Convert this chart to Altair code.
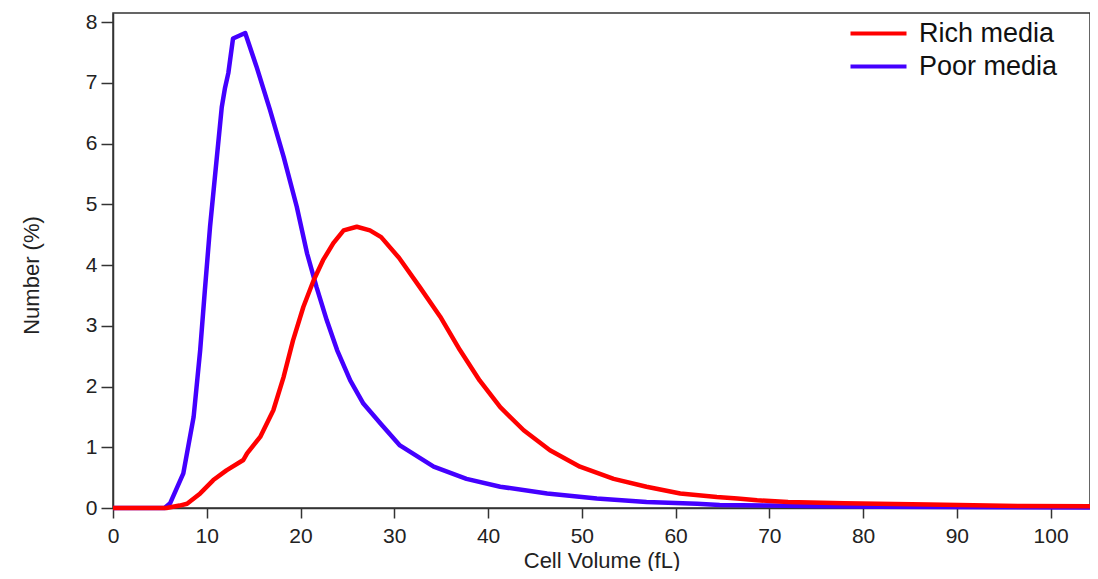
import altair as alt
import pandas as pd

# Rich media curve (Cell Volume fL, Number %)
rich_x = [0, 5.7, 7.1, 7.9, 9.3, 10.7, 12.1, 13.9, 14.3, 15.7, 17.1, 18.2, 19.2, 20.3, 21.4,
          22.4, 23.5, 24.6, 26.0, 27.4, 28.6, 30.5, 32.7, 34.9, 37.0, 39.1, 41.3, 43.8, 46.6,
          49.8, 53.4, 56.9, 60.5, 64.4, 66.6, 68.7, 72.0, 78.0, 87.0, 97.0, 104.2]
rich_y = [0, 0, 0.04, 0.07, 0.24, 0.46, 0.62, 0.79, 0.9, 1.17, 1.61, 2.16, 2.76, 3.31, 3.75,
          4.08, 4.36, 4.57, 4.63, 4.57, 4.46, 4.12, 3.64, 3.15, 2.6, 2.1, 1.66, 1.28, 0.95,
          0.68, 0.48, 0.35, 0.24, 0.18, 0.155, 0.127, 0.1, 0.077, 0.056, 0.033, 0.03]

# Poor media curve
poor_x = [0, 5.5, 6.1, 7.5, 8.6, 9.3, 9.8, 10.35, 10.9, 11.6, 11.95, 12.3, 12.8, 14.1, 15.3,
          16.75, 18.2, 19.6, 20.7, 21.7, 22.8, 23.9, 25.3, 26.7, 28.6, 30.6, 34.2, 37.7, 41.3,
          46.3, 51.6, 56.9, 62.3, 64.7, 70.0, 75.0, 81.5, 104.2]
poor_y = [0, 0, 0.08, 0.57, 1.5, 2.6, 3.59, 4.63, 5.5, 6.6, 6.92, 7.16, 7.73, 7.82, 7.27,
          6.55, 5.78, 4.96, 4.19, 3.64, 3.09, 2.6, 2.1, 1.72, 1.38, 1.03, 0.68, 0.48, 0.35,
          0.24, 0.155, 0.1, 0.07, 0.05, 0.04, 0.03, 0.02, 0.01]

series_names = ["Rich media", "Poor media"]
series_colors = ["#ff0000", "#4400ff"]
x_ticks = [0, 10, 20, 30, 40, 50, 60, 70, 80, 90, 100]
y_ticks = [0, 1, 2, 3, 4, 5, 6, 7, 8]

rich = pd.DataFrame({"v": rich_x, "n": rich_y, "s": series_names[0], "o": range(len(rich_x))})
poor = pd.DataFrame({"v": poor_x, "n": poor_y, "s": series_names[1], "o": range(len(poor_x))})

FONT = "Liberation Sans"

xenc = alt.X("v:Q", title="Cell Volume (fL)",
             scale=alt.Scale(domain=[0, 104.2], nice=False, zero=False),
             axis=alt.Axis(values=x_ticks, tickSize=10, labelPadding=7, titlePadding=4,
                           labelFontSize=21, titleFontSize=22, grid=False,
                           labelFlush=False, titleFontWeight="normal"))
yenc = alt.Y("n:Q", title="Number (%)",
             scale=alt.Scale(domain=[0, 8.15], nice=False),
             axis=alt.Axis(values=y_ticks, tickSize=12, labelPadding=4, titlePadding=42,
                           labelFontSize=21, titleFontSize=22, grid=False, titleY=262,
                           titleFontWeight="normal"))
cenc = alt.Color("s:N", title=None,
                 scale=alt.Scale(domain=series_names, range=series_colors),
                 legend=alt.Legend(orient="none", legendX=752, legendY=7,
                                   symbolType="M-2.8,0H2.8", symbolSize=400,
                                   symbolStrokeWidth=4, labelOffset=27,
                                   labelFontSize=27, labelColor="#111", labelFont=FONT,
                                   rowPadding=5, padding=0))

blue = alt.Chart(poor).mark_line(strokeWidth=4.5, strokeJoin="round").encode(
    x=xenc, y=yenc, color=cenc, order="o:Q")
red = alt.Chart(rich).mark_line(strokeWidth=4.5, strokeJoin="round").encode(
    x=xenc, y=yenc, color=cenc, order="o:Q")

chart = alt.layer(blue, red).properties(
    width=977, height=495,
    background="white",
    autosize=alt.AutoSizeParams(type="none"),
    padding={"left": 105, "top": 5, "right": 0, "bottom": 63},
).configure_view(stroke="#333", strokeWidth=1.5).configure_axis(
    domainColor="#333", domainWidth=1.5, tickColor="#333", tickWidth=1.5,
    labelColor="#222", titleColor="#222", labelFont=FONT, titleFont=FONT,
)

chart.save("out.html", embed_options={"renderer": "svg", "actions": False})
